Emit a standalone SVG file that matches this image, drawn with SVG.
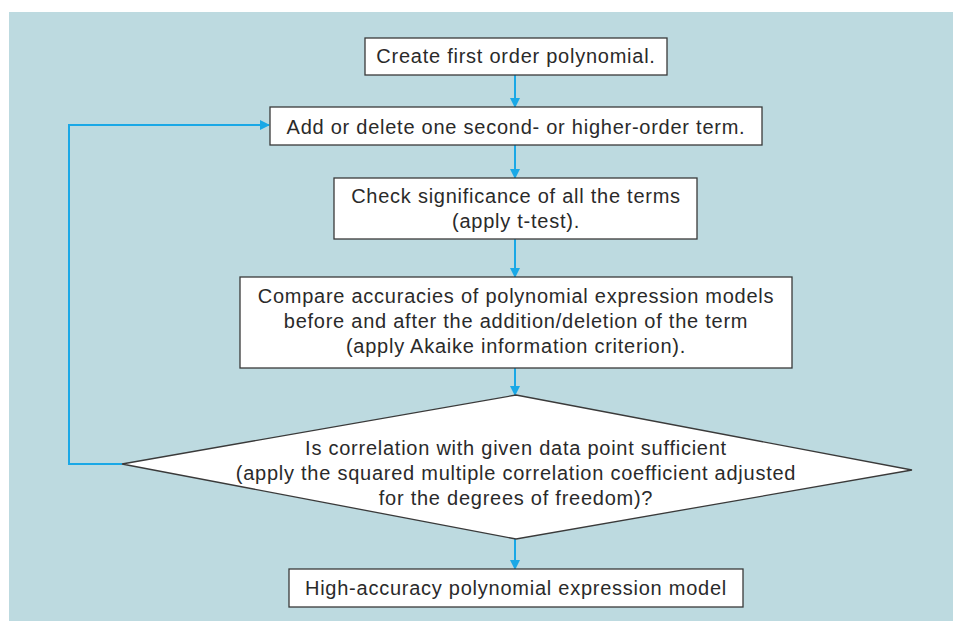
<svg xmlns="http://www.w3.org/2000/svg" width="953" height="621" viewBox="0 0 953 621">
<style>
.box{fill:#fff;stroke:#3a3a3a;stroke-width:1.3}
.t{font-family:"Liberation Sans",Arial,sans-serif;font-size:20px;letter-spacing:0.75px;fill:#2a2a2a;text-anchor:middle}
.c{fill:none;stroke:#1aa8e6;stroke-width:2}
</style>
<defs>
<marker id="ah" markerWidth="10" markerHeight="10" refX="9" refY="5" orient="auto" markerUnits="userSpaceOnUse">
<path d="M0,0 L10,5 L0,10 Z" fill="#1aa8e6"/>
</marker>
</defs>
<rect x="0" y="0" width="953" height="621" fill="#fff"/>
<rect x="9" y="12" width="944" height="609" fill="#bddae0"/>
<g id="connectors">
<line class="c" x1="515" y1="75" x2="515" y2="107" marker-end="url(#ah)"/>
<line class="c" x1="515" y1="145" x2="515" y2="178" marker-end="url(#ah)"/>
<line class="c" x1="515" y1="239" x2="515" y2="277" marker-end="url(#ah)"/>
<line class="c" x1="515" y1="368" x2="515" y2="395" marker-end="url(#ah)"/>
<line class="c" x1="515" y1="539" x2="515" y2="569" marker-end="url(#ah)"/>
<polyline class="c" points="122,464 69,464 69,125 269,125" marker-end="url(#ah)"/>
</g>
<g id="n1">
<rect class="box" x="365" y="38" width="302" height="37"/>
<text class="t" x="516" y="63">Create first order polynomial.</text>
</g>
<g id="n2">
<rect class="box" x="270" y="107" width="492" height="38"/>
<text class="t" x="516" y="134">Add or delete one second- or higher-order term.</text>
</g>
<g id="n3">
<rect class="box" x="334" y="178" width="363" height="61"/>
<text class="t" x="516" y="203">Check significance of all the terms</text>
<text class="t" x="516" y="228">(apply t-test).</text>
</g>
<g id="n4">
<rect class="box" x="240" y="277" width="552" height="91"/>
<text class="t" x="516" y="303">Compare accuracies of polynomial expression models</text>
<text class="t" x="516" y="328">before and after the addition/deletion of the term</text>
<text class="t" x="516" y="353">(apply Akaike information criterion).</text>
</g>
<g id="n5">
<polygon class="box" points="516,395 912,470 516,539 122,464"/>
<text class="t" x="516" y="455">Is correlation with given data point sufficient</text>
<text class="t" x="516" y="480">(apply the squared multiple correlation coefficient adjusted</text>
<text class="t" x="516" y="505">for the degrees of freedom)?</text>
</g>
<g id="n6">
<rect class="box" x="289" y="569" width="454" height="38"/>
<text class="t" x="516" y="595">High-accuracy polynomial expression model</text>
</g>
</svg>
